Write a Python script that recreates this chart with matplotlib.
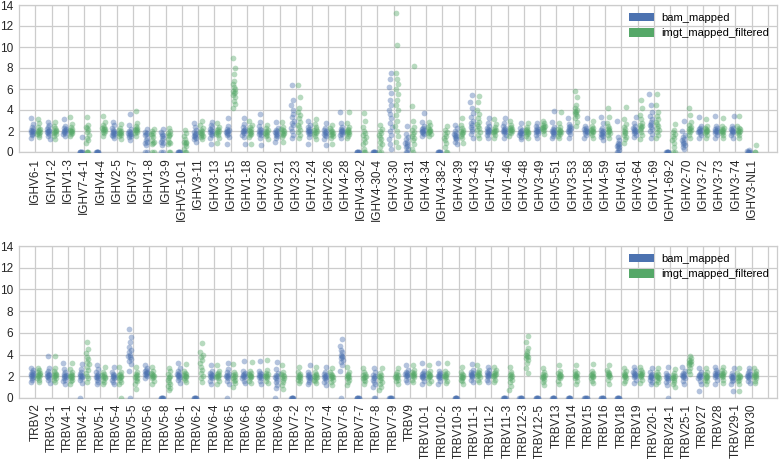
import matplotlib
matplotlib.use("Agg")
import matplotlib.pyplot as plt
from matplotlib.patches import Patch

plt.rcParams['font.family'] = ['Liberation Sans', 'DejaVu Sans']

hue_names = ["bam_mapped", "imgt_mapped_filtered"]
hue_colors = ["#4C72B0", "#55A868"]

ighv_labels = ["IGHV6-1", "IGHV1-2", "IGHV1-3", "IGHV7-4-1", "IGHV4-4", "IGHV2-5", "IGHV3-7",
               "IGHV1-8", "IGHV3-9", "IGHV5-10-1", "IGHV3-11", "IGHV3-13", "IGHV3-15", "IGHV1-18",
               "IGHV3-20", "IGHV3-21", "IGHV3-23", "IGHV1-24", "IGHV2-26", "IGHV4-28", "IGHV4-30-2",
               "IGHV4-30-4", "IGHV3-30", "IGHV4-31", "IGHV4-34", "IGHV4-38-2", "IGHV4-39", "IGHV3-43",
               "IGHV1-45", "IGHV1-46", "IGHV3-48", "IGHV3-49", "IGHV5-51", "IGHV3-53", "IGHV1-58",
               "IGHV4-59", "IGHV4-61", "IGHV3-64", "IGHV1-69", "IGHV1-69-2", "IGHV2-70", "IGHV3-72",
               "IGHV3-73", "IGHV3-74", "IGHV3-NL1"]

ighv_bam = [
    [1.3, 1.6, 1.7, 1.8, 1.9, 2.0, 2.0, 2.1, 2.2, 2.4, 2.7, 3.2],
    [1.2, 1.5, 1.7, 1.8, 1.9, 2.0, 2.0, 2.1, 2.2, 2.4, 2.6, 2.9],
    [1.5, 1.7, 1.8, 1.9, 2.0, 2.0, 2.1, 2.2, 2.3, 2.5, 3.1],
    [0, 0, 0, 0, 0, 0, 1.4],
    [0, 0, 0, 0, 0, 0],
    [1.3, 1.5, 1.6, 1.7, 1.8, 1.8, 1.9, 2.0, 2.1, 2.3, 2.6, 2.9],
    [1.1, 1.4, 1.5, 1.6, 1.7, 1.7, 1.8, 1.9, 2.0, 2.2, 2.6, 3.6],
    [0, 0, 0.7, 0.9, 1.0, 1.1, 1.3, 1.6, 1.7, 1.8, 1.9, 2.2],
    [0, 0, 0.7, 0.9, 1.0, 1.1, 1.3, 1.5, 1.6, 1.7, 1.9, 2.2],
    [0, 0, 0, 0, 0, 0],
    [1.0, 1.2, 1.3, 1.4, 1.5, 1.6, 1.7, 1.8, 1.9, 2.1, 2.4, 2.8],
    [0.8, 1.3, 1.6, 1.7, 1.8, 1.9, 2.0, 2.1, 2.2, 2.4, 2.6, 2.9],
    [0.8, 1.4, 1.6, 1.7, 1.8, 1.9, 2.0, 2.0, 2.1, 2.2, 2.5, 3.2],
    [0.8, 1.4, 1.6, 1.8, 1.9, 2.0, 2.0, 2.1, 2.2, 2.4, 2.7, 3.2],
    [0.7, 1.3, 1.6, 1.7, 1.8, 1.9, 2.0, 2.1, 2.2, 2.5, 2.9, 3.6],
    [1.0, 1.3, 1.5, 1.6, 1.7, 1.8, 1.9, 2.0, 2.1, 2.3, 2.9],
    [1.3, 1.6, 2.0, 2.3, 2.6, 2.8, 3.0, 3.3, 3.6, 4.0, 4.5, 5.0, 6.4],
    [0.8, 1.4, 1.7, 1.8, 1.9, 2.0, 2.0, 2.1, 2.2, 2.4, 2.6, 3.0],
    [0.7, 1.2, 1.5, 1.6, 1.7, 1.8, 1.9, 2.0, 2.1, 2.3, 2.8],
    [1.3, 1.6, 1.7, 1.8, 1.9, 2.0, 2.0, 2.1, 2.2, 2.4, 2.8, 3.8],
    [0, 0, 0, 0, 0, 0],
    [0, 0, 0, 0, 0, 0],
    [0.3, 0.8, 1.2, 1.6, 2.0, 2.4, 2.8, 3.2, 3.6, 4.0, 4.5, 5.0, 5.6, 6.2, 7.0, 7.5],
    [0, 0, 0.3, 0.5, 0.6, 0.8, 0.9, 1.0, 1.2, 1.4, 1.7, 2.5],
    [1.5, 1.7, 1.8, 1.9, 2.0, 2.0, 2.1, 2.2, 2.3, 2.5, 2.9, 3.7],
    [0, 0, 0, 0, 0, 0],
    [0.8, 1.0, 1.2, 1.3, 1.4, 1.5, 1.6, 1.7, 1.8, 2.0, 2.3, 2.6],
    [1.3, 1.7, 2.0, 2.2, 2.4, 2.6, 2.8, 3.0, 3.3, 3.7, 4.2, 4.8, 5.4],
    [1.3, 1.6, 1.8, 1.9, 2.0, 2.0, 2.1, 2.2, 2.3, 2.5, 2.8, 3.2],
    [1.3, 1.6, 1.8, 1.9, 2.0, 2.0, 2.1, 2.2, 2.3, 2.5, 2.8, 3.2],
    [1.2, 1.4, 1.6, 1.7, 1.8, 1.8, 1.9, 2.0, 2.1, 2.3, 2.8],
    [1.3, 1.6, 1.8, 1.9, 2.0, 2.0, 2.1, 2.2, 2.3, 2.5, 2.8],
    [1.3, 1.5, 1.7, 1.8, 1.9, 1.9, 2.0, 2.1, 2.2, 2.4, 2.9, 3.9],
    [1.3, 1.7, 1.9, 2.0, 2.1, 2.2, 2.3, 2.4, 2.5, 2.7, 3.2],
    [1.3, 1.6, 1.8, 1.9, 2.0, 2.0, 2.1, 2.2, 2.3, 2.5, 3.2],
    [1.1, 1.4, 1.5, 1.6, 1.7, 1.8, 1.9, 2.0, 2.1, 2.3, 2.8, 3.3],
    [0, 0, 0.2, 0.4, 0.5, 0.6, 0.7, 0.8, 0.9, 1.1, 1.4, 3.0],
    [1.4, 1.6, 1.8, 1.9, 2.0, 2.0, 2.1, 2.2, 2.3, 2.5, 2.8, 3.3],
    [1.3, 1.7, 2.0, 2.2, 2.4, 2.6, 2.7, 2.9, 3.1, 3.4, 3.8, 4.5, 5.5],
    [0, 0, 0, 0, 0, 0],
    [0.3, 0.5, 0.7, 0.8, 0.9, 1.0, 1.1, 1.2, 1.4, 1.6, 2.0, 3.0],
    [1.3, 1.6, 1.8, 1.9, 2.0, 2.0, 2.1, 2.2, 2.3, 2.5, 3.3],
    [1.3, 1.6, 1.8, 1.9, 2.0, 2.0, 2.1, 2.2, 2.3, 2.5, 3.4],
    [1.3, 1.6, 1.8, 1.9, 2.0, 2.0, 2.1, 2.2, 2.3, 2.5, 3.4],
    [0, 0, 0, 0, 0.1, 0.2],
]

ighv_imgt = [
    [1.4, 1.6, 1.7, 1.8, 1.9, 1.9, 2.0, 2.1, 2.2, 2.4, 2.8, 3.1],
    [1.2, 1.5, 1.7, 1.8, 1.9, 2.0, 2.0, 2.1, 2.3, 2.5, 2.9],
    [1.5, 1.7, 1.8, 1.9, 2.0, 2.0, 2.1, 2.2, 2.4, 2.7, 3.3],
    [0, 0, 0, 0.9, 1.1, 1.3, 1.6, 1.9, 2.1, 2.3, 2.4, 2.6, 3.3],
    [1.5, 1.8, 1.9, 2.0, 2.1, 2.2, 2.2, 2.3, 2.4, 2.6, 2.9, 3.4],
    [1.2, 1.5, 1.6, 1.7, 1.8, 1.8, 1.9, 2.0, 2.1, 2.3, 2.7],
    [1.5, 1.8, 1.9, 2.0, 2.1, 2.1, 2.2, 2.3, 2.5, 2.8, 3.9],
    [0, 0, 0.8, 0.9, 1.0, 1.1, 1.4, 1.6, 1.7, 1.8, 2.0, 2.2],
    [0, 0, 0.8, 0.9, 1.0, 1.2, 1.5, 1.6, 1.7, 1.8, 2.0, 2.3],
    [0, 0, 0.3, 0.6, 0.8, 0.9, 1.0, 1.0, 1.2, 1.5, 1.8, 2.1],
    [1.2, 1.4, 1.5, 1.6, 1.7, 1.8, 1.9, 2.0, 2.1, 2.3, 2.6, 3.0],
    [0.9, 1.3, 1.6, 1.7, 1.8, 1.9, 2.0, 2.1, 2.2, 2.4, 2.8],
    [4.2, 4.6, 4.9, 5.2, 5.4, 5.6, 5.7, 5.8, 6.0, 6.2, 6.5, 6.8, 7.4, 8.0, 9.0],
    [0.8, 1.4, 1.6, 1.7, 1.8, 1.9, 2.0, 2.1, 2.2, 2.4, 2.6, 3.0],
    [1.2, 1.5, 1.6, 1.7, 1.8, 1.9, 2.0, 2.1, 2.3, 2.6],
    [1.0, 1.4, 1.6, 1.7, 1.8, 1.9, 2.0, 2.1, 2.2, 2.4, 2.9],
    [1.3, 1.6, 1.9, 2.1, 2.4, 2.6, 2.9, 3.2, 3.5, 3.8, 4.2, 5.2, 6.4],
    [1.2, 1.5, 1.7, 1.8, 1.9, 2.0, 2.1, 2.2, 2.4, 2.7, 3.1],
    [0.8, 1.3, 1.5, 1.6, 1.7, 1.8, 1.9, 2.0, 2.1, 2.3, 2.6],
    [1.3, 1.5, 1.7, 1.8, 1.9, 1.9, 2.0, 2.1, 2.2, 2.4, 2.8, 3.8],
    [0, 0, 0.3, 0.8, 1.0, 1.2, 1.4, 1.6, 1.8, 2.0, 2.4, 3.0, 3.7],
    [0, 0, 0.5, 0.8, 1.0, 1.2, 1.4, 1.6, 1.8, 2.0, 2.2, 2.6],
    [0.5, 1.0, 1.5, 2.0, 2.5, 3.0, 3.5, 4.0, 4.5, 5.0, 5.5, 6.0, 6.5, 7.0, 7.5, 10.2, 13.2],
    [0, 0.3, 0.8, 1.1, 1.3, 1.5, 1.7, 1.9, 2.1, 2.4, 3.0, 4.4, 8.2],
    [1.5, 1.7, 1.8, 1.9, 2.0, 2.0, 2.1, 2.2, 2.4, 2.6, 2.9],
    [0, 0, 0.5, 0.9, 1.1, 1.3, 1.5, 1.7, 1.9, 2.1, 2.5],
    [0.9, 1.3, 1.5, 1.7, 1.8, 1.9, 2.0, 2.1, 2.3, 2.6, 3.2],
    [1.3, 1.6, 1.9, 2.1, 2.3, 2.5, 2.7, 2.9, 3.2, 3.6, 4.0, 4.8, 5.3],
    [1.3, 1.6, 1.8, 1.9, 2.0, 2.0, 2.1, 2.2, 2.4, 2.7, 3.1],
    [1.5, 1.8, 1.9, 2.0, 2.1, 2.1, 2.2, 2.3, 2.4, 2.6, 3.0],
    [1.3, 1.5, 1.7, 1.8, 1.9, 1.9, 2.0, 2.1, 2.2, 2.4, 2.8],
    [1.7, 2.0, 2.1, 2.2, 2.3, 2.4, 2.4, 2.5, 2.6, 2.8, 3.0],
    [1.3, 1.5, 1.7, 1.8, 1.9, 1.9, 2.0, 2.1, 2.2, 2.4, 2.8, 3.8],
    [2.5, 2.9, 3.2, 3.4, 3.6, 3.7, 3.8, 3.9, 4.0, 4.2, 4.5, 5.2, 5.8],
    [1.3, 1.6, 1.8, 1.9, 2.0, 2.0, 2.1, 2.2, 2.3, 2.5, 3.0],
    [1.3, 1.6, 1.8, 1.9, 2.0, 2.1, 2.2, 2.3, 2.5, 2.8, 3.3, 4.2],
    [0.9, 1.2, 1.4, 1.6, 1.8, 1.9, 2.0, 2.2, 2.4, 2.7, 3.1, 4.3],
    [1.2, 1.6, 1.9, 2.1, 2.3, 2.4, 2.5, 2.6, 2.8, 3.1, 3.5, 4.2, 5.0],
    [1.3, 1.6, 1.9, 2.1, 2.3, 2.5, 2.7, 2.9, 3.1, 3.4, 3.8, 4.5, 5.5],
    [0, 0, 0.5, 0.9, 1.1, 1.3, 1.5, 1.7, 1.9, 2.1, 2.7],
    [1.3, 1.6, 1.9, 2.0, 2.1, 2.2, 2.3, 2.4, 2.6, 2.9, 3.5, 4.2],
    [1.3, 1.6, 1.8, 1.9, 2.0, 2.0, 2.1, 2.2, 2.3, 2.5, 3.1],
    [1.3, 1.6, 1.8, 1.9, 2.0, 2.0, 2.1, 2.2, 2.3, 2.5, 3.2],
    [1.3, 1.6, 1.8, 1.9, 2.0, 2.0, 2.1, 2.2, 2.3, 2.5, 3.4],
    [0, 0, 0.7],
]

trbv_labels = ["TRBV2", "TRBV3-1", "TRBV4-1", "TRBV4-2", "TRBV5-1", "TRBV5-4", "TRBV5-5", "TRBV5-6",
               "TRBV5-8", "TRBV6-1", "TRBV6-2", "TRBV6-4", "TRBV6-5", "TRBV6-6", "TRBV6-8", "TRBV6-9",
               "TRBV7-2", "TRBV7-3", "TRBV7-4", "TRBV7-6", "TRBV7-7", "TRBV7-8", "TRBV7-9", "TRBV9",
               "TRBV10-1", "TRBV10-2", "TRBV10-3", "TRBV11-1", "TRBV11-2", "TRBV11-3", "TRBV12-3",
               "TRBV12-5", "TRBV13", "TRBV14", "TRBV15", "TRBV16", "TRBV18", "TRBV19", "TRBV20-1",
               "TRBV24-1", "TRBV25-1", "TRBV27", "TRBV28", "TRBV29-1", "TRBV30"]

trbv_bam = [
    [1.5, 1.7, 1.8, 1.9, 2.0, 2.1, 2.1, 2.2, 2.3, 2.4, 2.6, 2.8],
    [1.4, 1.7, 1.8, 1.9, 2.0, 2.1, 2.1, 2.2, 2.3, 2.5, 2.8, 3.9],
    [1.3, 1.6, 1.7, 1.8, 1.9, 2.0, 2.0, 2.1, 2.2, 2.4, 2.7, 3.2],
    [0, 1.4, 1.7, 1.8, 1.9, 2.0, 2.0, 2.1, 2.2, 2.4, 2.7, 3.1],
    [1.3, 1.5, 1.7, 1.8, 1.9, 1.9, 2.0, 2.1, 2.2, 2.4, 2.7, 3.0],
    [1.3, 1.5, 1.7, 1.8, 1.9, 1.9, 2.0, 2.1, 2.2, 2.4, 2.9],
    [0, 2.5, 3.1, 3.4, 3.6, 3.8, 3.9, 4.0, 4.2, 4.4, 4.7, 5.2, 5.6, 6.4],
    [1.8, 2.0, 2.1, 2.2, 2.3, 2.3, 2.4, 2.5, 2.6, 2.8, 3.0],
    [0, 0, 0, 0, 0, 0],
    [1.4, 1.7, 1.8, 1.9, 2.0, 2.1, 2.1, 2.2, 2.3, 2.5, 2.8, 3.2],
    [0, 0, 0, 0, 0, 0],
    [1.3, 1.6, 1.8, 1.9, 2.0, 2.0, 2.1, 2.2, 2.3, 2.5, 3.0],
    [0, 1.3, 1.6, 1.8, 1.9, 2.0, 2.0, 2.1, 2.2, 2.4, 2.7, 3.2],
    [1.4, 1.6, 1.8, 1.9, 2.0, 2.0, 2.1, 2.2, 2.3, 2.5, 3.4],
    [1.3, 1.6, 1.8, 1.9, 2.0, 2.0, 2.1, 2.2, 2.3, 2.5, 3.4],
    [0, 0.9, 1.2, 1.5, 1.7, 1.8, 1.9, 2.0, 2.1, 2.3, 2.7, 3.3],
    [0, 0, 0, 0, 0, 0],
    [1.3, 1.5, 1.7, 1.8, 1.9, 1.9, 2.0, 2.1, 2.2, 2.4, 3.0],
    [1.2, 1.5, 1.7, 1.8, 1.9, 1.9, 2.0, 2.1, 2.2, 2.4, 2.9],
    [0, 2.5, 3.0, 3.3, 3.5, 3.7, 3.8, 3.9, 4.0, 4.2, 4.4, 4.8, 5.4],
    [0, 0, 0, 0, 0, 0],
    [0, 0, 1.0, 1.3, 1.5, 1.7, 1.8, 1.9, 2.0, 2.1, 2.4, 2.8],
    [0, 0, 0, 0, 0, 0],
    [1.5, 1.7, 1.9, 2.0, 2.1, 2.1, 2.2, 2.3, 2.4, 2.6, 3.0],
    [1.3, 1.6, 1.8, 1.9, 2.0, 2.0, 2.1, 2.2, 2.3, 2.5, 3.2],
    [1.3, 1.6, 1.8, 1.9, 2.0, 2.0, 2.1, 2.2, 2.3, 2.5, 3.2],
    [0, 0, 0, 0, 0, 0],
    [1.5, 1.7, 1.9, 2.0, 2.1, 2.1, 2.2, 2.3, 2.4, 2.6, 3.1],
    [1.5, 1.7, 1.9, 2.0, 2.1, 2.1, 2.2, 2.3, 2.4, 2.6, 2.9],
    [0, 0, 0, 0, 0, 0],
    [0, 0, 0, 0, 0, 0],
    [0, 0, 0, 0, 0, 0],
    [0, 0, 0, 0, 0, 0],
    [0, 0, 0, 0, 0, 0],
    [0, 0, 0, 0, 0, 0],
    [0, 0, 0, 0, 0, 0],
    [0, 0, 0, 0, 0, 0],
    [1.4, 1.7, 1.9, 2.0, 2.1, 2.1, 2.2, 2.3, 2.4, 2.6, 2.9],
    [1.3, 1.5, 1.7, 1.8, 1.9, 1.9, 2.0, 2.1, 2.2, 2.4, 2.8],
    [0, 1.2, 1.5, 1.7, 1.8, 1.8, 1.9, 2.0, 2.1, 2.3, 2.9],
    [1.3, 1.6, 1.8, 1.9, 2.0, 2.0, 2.1, 2.2, 2.3, 2.5, 2.9],
    [0.6, 1.3, 1.6, 1.8, 1.9, 2.0, 2.0, 2.1, 2.2, 2.4, 2.8],
    [1.3, 1.7, 1.9, 2.0, 2.1, 2.1, 2.2, 2.3, 2.4, 2.6, 2.9],
    [0.6, 1.3, 1.6, 1.7, 1.8, 1.9, 1.9, 2.0, 2.1, 2.3, 2.8],
    [1.4, 1.6, 1.8, 1.9, 2.0, 2.0, 2.1, 2.2, 2.3, 2.5, 2.8],
]

trbv_imgt = [
    [1.5, 1.7, 1.8, 1.9, 2.0, 2.1, 2.1, 2.2, 2.3, 2.4, 2.6, 2.8],
    [1.5, 1.7, 1.8, 1.9, 2.0, 2.1, 2.1, 2.2, 2.3, 2.5, 2.8, 3.9],
    [1.3, 1.6, 1.7, 1.8, 1.9, 2.0, 2.0, 2.1, 2.2, 2.4, 2.7, 3.2],
    [1.5, 1.8, 2.0, 2.3, 2.6, 2.9, 3.1, 3.3, 3.6, 3.8, 4.1, 4.5, 5.2],
    [1.3, 1.5, 1.7, 1.8, 1.9, 1.9, 2.0, 2.1, 2.2, 2.4, 2.9],
    [0, 1.3, 1.5, 1.7, 1.8, 1.9, 1.9, 2.0, 2.1, 2.2, 2.4, 2.9],
    [0.8, 1.3, 1.6, 1.7, 1.8, 1.9, 2.0, 2.1, 2.2, 2.4, 2.9],
    [1.3, 1.6, 1.8, 1.9, 2.0, 2.0, 2.1, 2.2, 2.3, 2.5, 2.9],
    [0.7, 0.9, 1.1, 1.3, 1.5, 1.7, 1.8, 1.9, 2.0, 2.2, 2.5, 2.8],
    [1.5, 1.7, 1.8, 1.9, 2.0, 2.0, 2.1, 2.2, 2.3, 2.5, 3.1],
    [1.5, 1.8, 2.0, 2.3, 2.6, 2.9, 3.2, 3.5, 3.8, 4.0, 4.2, 5.1],
    [1.3, 1.6, 1.8, 1.9, 2.0, 2.0, 2.1, 2.2, 2.3, 2.5, 3.0],
    [1.0, 1.4, 1.6, 1.7, 1.8, 1.9, 2.0, 2.1, 2.2, 2.4, 3.1],
    [1.4, 1.6, 1.8, 1.9, 2.0, 2.0, 2.1, 2.2, 2.3, 2.5, 3.3],
    [1.4, 1.6, 1.8, 1.9, 2.0, 2.0, 2.1, 2.2, 2.3, 2.6, 3.5],
    [0.8, 1.2, 1.5, 1.7, 1.8, 1.9, 2.0, 2.1, 2.2, 2.4, 3.0],
    [1.4, 1.6, 1.7, 1.8, 1.9, 1.9, 2.0, 2.1, 2.2, 2.4, 2.9],
    [1.4, 1.6, 1.7, 1.8, 1.9, 1.9, 2.0, 2.1, 2.2, 2.4, 2.9],
    [1.2, 1.5, 1.7, 1.8, 1.9, 1.9, 2.0, 2.1, 2.2, 2.4, 2.8],
    [1.2, 1.5, 1.7, 1.8, 1.9, 1.9, 2.0, 2.1, 2.2, 2.4, 2.9],
    [1.3, 1.6, 1.7, 1.8, 1.9, 1.9, 2.0, 2.1, 2.2, 2.4, 2.8],
    [0.7, 1.0, 1.3, 1.5, 1.7, 1.8, 1.9, 2.0, 2.1, 2.3, 2.8],
    [1.3, 1.6, 1.7, 1.8, 1.9, 1.9, 2.0, 2.1, 2.2, 2.4, 2.8],
    [1.5, 1.7, 1.9, 2.0, 2.1, 2.1, 2.2, 2.3, 2.4, 2.6, 3.0],
    [1.4, 1.6, 1.8, 1.9, 2.0, 2.0, 2.1, 2.2, 2.3, 2.5, 3.0],
    [1.4, 1.6, 1.8, 1.9, 2.0, 2.0, 2.1, 2.2, 2.3, 2.5, 3.2],
    [1.3, 1.6, 1.7, 1.8, 1.9, 1.9, 2.0, 2.1, 2.2, 2.4, 2.9],
    [1.5, 1.7, 1.9, 2.0, 2.1, 2.1, 2.2, 2.3, 2.4, 2.6, 3.0],
    [1.5, 1.7, 1.9, 2.0, 2.1, 2.1, 2.2, 2.3, 2.4, 2.6, 2.9],
    [0.7, 1.1, 1.5, 1.7, 1.8, 1.9, 2.0, 2.1, 2.2, 2.4, 2.9],
    [2.3, 2.8, 3.2, 3.5, 3.7, 3.8, 3.9, 4.0, 4.1, 4.3, 4.6, 5.2, 5.7],
    [1.2, 1.5, 1.7, 1.8, 1.9, 1.9, 2.0, 2.1, 2.2, 2.4, 2.8],
    [1.3, 1.6, 1.8, 1.9, 2.0, 2.0, 2.1, 2.2, 2.3, 2.5, 3.0],
    [1.3, 1.6, 1.8, 1.9, 2.0, 2.0, 2.1, 2.2, 2.3, 2.5, 3.0],
    [1.4, 1.6, 1.8, 1.9, 2.0, 2.0, 2.1, 2.2, 2.3, 2.5, 3.1],
    [1.3, 1.7, 1.9, 2.0, 2.1, 2.1, 2.2, 2.3, 2.4, 2.6, 3.0],
    [1.4, 1.6, 1.8, 1.9, 2.0, 2.0, 2.1, 2.2, 2.3, 2.5, 2.8],
    [1.4, 1.7, 1.9, 2.0, 2.1, 2.1, 2.2, 2.3, 2.4, 2.6, 2.9],
    [1.3, 1.5, 1.7, 1.8, 1.9, 1.9, 2.0, 2.1, 2.2, 2.4, 2.8],
    [1.0, 1.3, 1.5, 1.7, 1.8, 1.8, 1.9, 2.0, 2.1, 2.3, 2.7],
    [2.2, 2.5, 2.8, 3.0, 3.1, 3.2, 3.3, 3.4, 3.5, 3.7, 3.9],
    [1.3, 1.6, 1.7, 1.8, 1.9, 1.9, 2.0, 2.1, 2.2, 2.4, 2.8],
    [1.4, 1.7, 1.9, 2.0, 2.1, 2.1, 2.2, 2.3, 2.4, 2.6, 2.9],
    [0.6, 1.3, 1.6, 1.7, 1.8, 1.9, 1.9, 2.0, 2.1, 2.3, 2.8],
    [1.4, 1.6, 1.8, 1.9, 2.0, 2.0, 2.1, 2.2, 2.3, 2.5, 2.8],
]

y_ticks = [0, 2, 4, 6, 8, 10, 12, 14]

# fixed (non-random) jitter pattern, as fraction of the jitter half-width
JITTER = [-0.8, 0.3, -0.2, 0.9, -0.5, 0.6, 0.0, -0.9, 0.4, -0.3, 0.8, -0.6, 0.1, 0.7, -0.4, 0.5, -0.1]
DODGE = 0.2
JW = 0.09

fig = plt.figure(figsize=(7.81, 4.59), dpi=100)
ax1 = fig.add_axes([19 / 781, 1 - 152 / 459, (777 - 19) / 781, (152 - 5) / 459])
ax2 = fig.add_axes([19 / 781, 1 - 398 / 459, (777 - 19) / 781, (398 - 246) / 459])


def draw(ax, labels, series_list):
    ax.set_facecolor("white")
    for h, (series, color) in enumerate(zip(series_list, hue_colors)):
        off = -DODGE if h == 0 else DODGE
        xs, ys = [], []
        for i, vals in enumerate(series):
            for k, v in enumerate(vals):
                xs.append(i + off + JW * JITTER[(k + 3 * i + 5 * h) % len(JITTER)])
                ys.append(v)
        ax.scatter(xs, ys, s=17, color=color, alpha=0.42, linewidths=0, zorder=3)
    ax.set_xticks(range(len(labels) + 1))
    ax.set_xticklabels(labels + [""], rotation=90, fontsize=8.5, color="#262626")
    ax.set_xlim(-1.0, len(labels) + 0.55)
    ax.set_ylim(0, 14)
    ax.set_yticks(y_ticks)
    ax.set_yticklabels([str(t) for t in y_ticks], fontsize=8.5, color="#262626")
    ax.tick_params(length=0, pad=4)
    ax.grid(True, color="#cccccc", linewidth=0.9, zorder=0)
    ax.set_axisbelow(True)
    for sp in ax.spines.values():
        sp.set_color("#cccccc")
        sp.set_linewidth(0.9)
    handles = [Patch(facecolor=c, edgecolor="none", label=n) for c, n in zip(hue_colors, hue_names)]
    ax.legend(handles=handles, loc="upper right", frameon=False, fontsize=8,
              handlelength=2.2, handleheight=0.75, handletextpad=0.7, borderaxespad=0.3)


draw(ax1, ighv_labels, [ighv_bam, ighv_imgt])
draw(ax2, trbv_labels, [trbv_bam, trbv_imgt])

fig.savefig("out.png", dpi=100)
